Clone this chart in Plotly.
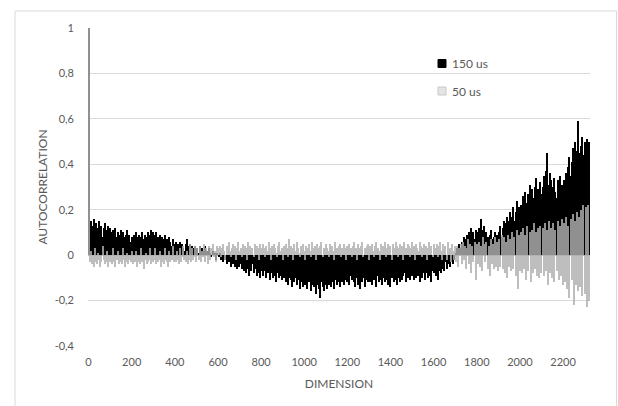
import plotly.graph_objects as go

# Dimensions sampled every 5 (bar centres): 0, 5, ..., 2320
dimension = list(range(0, 2325, 5))

autocorr_150us = [
    1.00,
    0.12, 0.15, 0.10, 0.13, 0.16, 0.11, 0.14, 0.09, 0.12, 0.15, 0.10, 0.13, 0.08, 0.12, 0.14, 0.09, 0.11, 0.13, 0.08, 0.12,
    0.10, 0.07, 0.11, 0.09, 0.12, 0.08, 0.10, 0.06, 0.09, 0.11, 0.07, 0.10, 0.08, 0.06, 0.09, 0.11, 0.07, 0.09, 0.06, 0.08,
    0.07, 0.09, 0.06, 0.10, 0.08, 0.07, 0.09, 0.06, 0.08, 0.10, 0.07, 0.09, 0.06, 0.08, 0.10, 0.07, 0.09, 0.11, 0.08, 0.10,
    0.09, 0.07, 0.10, 0.08, 0.06, 0.09, 0.07, 0.08, 0.05, 0.07, 0.09, 0.06, 0.07, 0.05, 0.08, 0.06, 0.04, 0.07, 0.05, 0.04,
    0.06, 0.04, 0.05, 0.03, 0.06, 0.04, 0.05, 0.03, 0.02, 0.05, 0.07, 0.04, 0.03, 0.05, 0.02, 0.04, 0.03, 0.01, 0.04, 0.02,
    0.03, 0.01, 0.04, 0.02, 0.03, 0.00, 0.02, 0.04, 0.01, 0.02, 0.00, 0.03, 0.01, -0.01, 0.02, 0.00, 0.01, -0.02, 0.01, 0.00,
    -0.01, 0.01, -0.02, 0.00, -0.03, -0.01, -0.02, -0.04, -0.01, -0.03, -0.02, -0.05, -0.03, -0.04, -0.02, -0.05, -0.03, -0.06, -0.04, -0.05,
    -0.04, -0.06, -0.03, -0.07, -0.05, -0.08, -0.04, -0.06, -0.09, -0.05, -0.07, -0.04, -0.08, -0.06, -0.05, -0.09, -0.06, -0.08, -0.10, -0.07,
    -0.06, -0.09, -0.07, -0.05, -0.10, -0.08, -0.06, -0.11, -0.08, -0.07, -0.10, -0.06, -0.09, -0.12, -0.08, -0.07, -0.10, -0.09, -0.11, -0.08,
    -0.10, -0.08, -0.12, -0.09, -0.13, -0.10, -0.08, -0.11, -0.14, -0.09, -0.12, -0.10, -0.13, -0.09, -0.11, -0.15, -0.10, -0.12, -0.14, -0.11,
    -0.13, -0.10, -0.15, -0.12, -0.11, -0.16, -0.13, -0.10, -0.14, -0.12, -0.17, -0.13, -0.11, -0.15, -0.19, -0.12, -0.14, -0.16, -0.11, -0.13,
    -0.15, -0.11, -0.13, -0.09, -0.14, -0.12, -0.10, -0.15, -0.11, -0.13, -0.08, -0.12, -0.14, -0.10, -0.12, -0.09, -0.13, -0.11, -0.08, -0.12,
    -0.10, -0.13, -0.09, -0.11, -0.07, -0.12, -0.14, -0.10, -0.08, -0.13, -0.11, -0.15, -0.09, -0.12, -0.10, -0.14, -0.11, -0.08, -0.12, -0.10,
    -0.12, -0.09, -0.13, -0.08, -0.11, -0.10, -0.14, -0.09, -0.12, -0.07, -0.11, -0.13, -0.09, -0.10, -0.12, -0.08, -0.11, -0.13, -0.09, -0.14,
    -0.10, -0.07, -0.12, -0.09, -0.11, -0.13, -0.08, -0.10, -0.12, -0.07, -0.11, -0.09, -0.08, -0.12, -0.06, -0.10, -0.09, -0.11, -0.07, -0.09,
    -0.08, -0.11, -0.07, -0.10, -0.06, -0.09, -0.12, -0.07, -0.10, -0.08, -0.06, -0.11, -0.08, -0.07, -0.10, -0.06, -0.09, -0.12, -0.07, -0.08,
    -0.06, -0.09, -0.05, -0.11, -0.07, -0.04, -0.08, -0.06, -0.05, -0.07, -0.03, -0.06, -0.04, -0.02, -0.05, -0.03, -0.01, -0.04, -0.02, 0.00,
    0.01, 0.03, 0.02, 0.05, 0.03, 0.06, 0.04, 0.08, 0.05, 0.07, 0.09, 0.06, 0.10, 0.07, 0.12, 0.08, 0.10, 0.07, 0.11, 0.09,
    0.10, 0.12, 0.08, 0.16, 0.11, 0.09, 0.13, 0.07, 0.10, 0.08, 0.06, 0.09, 0.11, 0.07, 0.05, 0.08, 0.10, 0.06, 0.09, 0.07,
    0.10, 0.13, 0.08, 0.12, 0.15, 0.11, 0.14, 0.17, 0.12, 0.15, 0.19, 0.14, 0.17, 0.21, 0.15, 0.19, 0.24, 0.18, 0.21, 0.17,
    0.22, 0.19, 0.26, 0.21, 0.28, 0.23, 0.20, 0.27, 0.31, 0.24, 0.29, 0.25, 0.22, 0.30, 0.34, 0.26, 0.29, 0.24, 0.32, 0.27,
    0.30, 0.35, 0.28, 0.37, 0.45, 0.31, 0.27, 0.36, 0.33, 0.24, 0.30, 0.34, 0.28, 0.25, 0.33, 0.29, 0.35, 0.27, 0.31, 0.29,
    0.33, 0.28, 0.36, 0.30, 0.39, 0.43, 0.35, 0.41, 0.47, 0.38, 0.50, 0.42, 0.46, 0.59, 0.45, 0.40, 0.48, 0.52, 0.44, 0.50,
    0.46, 0.51, 0.43, 0.50,
]

autocorr_50us = [
    1.00,
    -0.03, 0.02, -0.04, -0.02, -0.05, 0.03, -0.03, -0.04, 0.01, -0.02, -0.05, -0.03, 0.04, -0.02, -0.04, -0.03, 0.02, -0.05, -0.02, -0.03,
    -0.02, -0.04, 0.03, -0.03, -0.05, -0.02, 0.02, -0.04, -0.03, -0.01, -0.04, 0.03, -0.02, -0.05, -0.03, 0.01, -0.04, -0.02, -0.03, 0.02,
    -0.04, -0.02, -0.03, 0.02, -0.05, -0.03, -0.02, -0.04, 0.03, -0.03, -0.06, -0.02, 0.01, -0.04, -0.03, -0.02, 0.03, -0.04, -0.02, -0.03,
    -0.02, 0.03, -0.04, -0.03, -0.02, 0.02, -0.05, -0.03, -0.01, -0.04, 0.03, -0.02, -0.03, -0.05, 0.02, -0.03, -0.02, 0.04, -0.03, -0.02,
    -0.03, 0.02, -0.02, -0.04, 0.03, -0.03, -0.01, 0.04, -0.02, -0.03, 0.02, -0.04, -0.02, 0.05, -0.03, 0.03, -0.02, -0.01, 0.04, -0.03,
    0.03, -0.02, 0.04, -0.03, 0.02, -0.01, 0.05, -0.03, 0.03, 0.02, -0.04, 0.04, -0.02, 0.03, 0.05, -0.01, 0.02, -0.03, 0.04, 0.03,
    0.02, 0.04, -0.01, 0.03, 0.05, 0.02, -0.02, 0.04, 0.03, 0.06, 0.02, -0.01, 0.03, 0.05, 0.02, 0.04, -0.02, 0.03, 0.06, 0.02,
    0.03, -0.01, 0.05, 0.02, 0.04, 0.03, -0.02, 0.06, 0.02, 0.04, 0.01, 0.03, -0.01, 0.05, 0.02, 0.04, 0.03, -0.02, 0.05, 0.03,
    0.02, 0.05, 0.03, -0.01, 0.04, 0.02, 0.06, 0.03, -0.02, 0.04, 0.02, 0.05, 0.03, 0.01, -0.01, 0.04, 0.06, 0.02, 0.03, -0.02,
    0.04, 0.02, 0.05, 0.03, -0.01, 0.07, 0.02, 0.04, 0.03, -0.02, 0.05, 0.02, 0.06, 0.03, 0.01, -0.01, 0.04, 0.03, 0.05, 0.02,
    -0.02, 0.04, 0.03, 0.05, 0.02, -0.01, 0.06, 0.03, 0.02, 0.04, -0.02, 0.05, 0.03, 0.02, 0.04, 0.06, -0.01, 0.03, 0.02, 0.05,
    0.03, 0.02, -0.01, 0.05, 0.03, 0.04, 0.02, -0.02, 0.06, 0.03, 0.02, 0.04, 0.05, -0.01, 0.03, 0.02, 0.05, 0.03, -0.02, 0.04,
    0.02, 0.05, 0.03, -0.01, 0.04, 0.06, 0.02, 0.03, -0.02, 0.05, 0.03, 0.02, 0.04, 0.06, -0.01, 0.03, 0.02, 0.04, 0.05, -0.02,
    0.04, 0.03, 0.05, 0.02, -0.01, 0.04, 0.06, 0.03, 0.02, -0.02, 0.05, 0.03, 0.04, 0.02, 0.06, -0.01, 0.03, 0.05, 0.02, 0.04,
    -0.02, 0.05, 0.03, 0.02, 0.06, 0.04, -0.01, 0.03, 0.05, 0.02, 0.04, -0.02, 0.06, 0.03, 0.02, 0.05, 0.04, -0.01, 0.03, 0.06,
    0.02, 0.04, -0.02, 0.05, 0.03, 0.02, 0.06, 0.04, -0.01, 0.03, 0.05, 0.02, 0.04, -0.02, 0.03, 0.06, 0.02, 0.04, -0.01, 0.05,
    0.03, 0.02, 0.05, -0.01, 0.04, 0.06, 0.02, -0.02, 0.05, 0.03, 0.04, -0.02, 0.06, 0.02, 0.03, -0.03, 0.05, 0.02, -0.02, 0.04,
    -0.03, 0.04, -0.05, 0.03, 0.05, -0.04, 0.06, -0.02, 0.04, -0.06, 0.03, 0.07, -0.04, 0.05, -0.08, 0.04, -0.03, 0.06, -0.11, 0.05,
    -0.04, 0.06, -0.05, 0.04, -0.07, 0.08, 0.05, -0.03, 0.06, -0.06, 0.04, -0.09, 0.07, -0.04, 0.05, -0.06, 0.08, -0.05, 0.06, -0.07,
    0.07, -0.05, 0.09, -0.06, 0.08, -0.08, 0.06, -0.10, 0.09, -0.05, 0.07, -0.07, 0.10, -0.06, 0.08, -0.09, 0.11, -0.15, 0.09, -0.07,
    0.10, -0.08, 0.12, -0.06, 0.09, -0.11, 0.13, -0.07, 0.10, -0.12, 0.11, -0.08, 0.14, -0.06, 0.10, -0.09, 0.12, -0.10, 0.13, -0.08,
    0.12, -0.09, 0.14, -0.07, 0.11, -0.13, 0.15, -0.08, 0.12, -0.10, 0.14, -0.12, 0.11, -0.07, 0.15, -0.11, 0.13, -0.09, 0.16, -0.13,
    0.14, -0.12, 0.17, -0.15, 0.13, -0.19, 0.16, -0.11, 0.18, -0.22, 0.15, -0.13, 0.19, -0.16, 0.17, -0.14, 0.20, -0.18, 0.22, -0.17,
    0.21, -0.23, 0.22, -0.20,
]

x_ticks = list(range(0, 2201, 200))
y_ticks = [-0.4, -0.2, 0, 0.2, 0.4, 0.6, 0.8, 1.0]
y_tick_text = ["-0,4", "-0,2", "0", "0,2", "0,4", "0,6", "0,8", "1"]
series_names = ["150 us", "50 us"]

n = min(len(dimension), len(autocorr_150us), len(autocorr_50us))

BLACK = "#000000"
GRAY = "#b0b0b0"
FONT = "Lato"
TXT = "#595959"

fig = go.Figure()
fig.add_trace(go.Bar(x=dimension[:n], y=autocorr_150us[:n], width=5, name=series_names[0],
                     marker=dict(color=BLACK, line=dict(width=0)), showlegend=False))
fig.add_trace(go.Bar(x=dimension[:n], y=autocorr_50us[:n], width=5, name=series_names[1],
                     marker=dict(color=GRAY, line=dict(width=0)), opacity=0.82, showlegend=False))

W, H = 618, 406
L, R, T, B = 88, 28, 28, 60
pw, ph = W - L - R, H - T - B

def px(xp):
    return (xp - L) / pw

def py(yp):
    return 1 - (yp - T) / ph

shapes = [
    dict(type="rect", xref="paper", yref="paper", x0=px(15), x1=px(616.5), y0=py(415), y1=py(11),
         line=dict(color="#d9d9d9", width=1), fillcolor="rgba(0,0,0,0)", layer="below"),
    dict(type="rect", xref="paper", yref="paper", x0=px(438), x1=px(446), y0=py(67.5), y1=py(59.5),
         line=dict(color=BLACK, width=1), fillcolor=BLACK),
    dict(type="rect", xref="paper", yref="paper", x0=px(438), x1=px(446), y0=py(95), y1=py(87),
         line=dict(color="#c8c8c8", width=1), fillcolor="#e4e4e4"),
]
annotations = [
    dict(text=series_names[0], xref="paper", yref="paper", x=px(450), y=py(63.5), xanchor="left",
         yanchor="middle", showarrow=False, font=dict(family=FONT, size=12, color=TXT)),
    dict(text=series_names[1], xref="paper", yref="paper", x=px(450), y=py(91), xanchor="left",
         yanchor="middle", showarrow=False, font=dict(family=FONT, size=12, color=TXT)),
]

fig.update_layout(
    width=W, height=H,
    margin=dict(l=L, r=R, t=T, b=B, pad=0),
    paper_bgcolor="white", plot_bgcolor="white",
    barmode="overlay", bargap=0,
    font=dict(family=FONT, size=11, color=TXT),
    shapes=shapes, annotations=annotations,
    showlegend=False,
)
fig.update_xaxes(
    range=[-2.5, 2325], tickvals=x_ticks, ticktext=[str(v) for v in x_ticks],
    showgrid=False, zeroline=False, showline=False, ticks="",
    ticklabelstandoff=8,
    tickfont=dict(family=FONT, size=11, color=TXT),
    title=dict(text="DIMENSION", font=dict(family=FONT, size=12, color=TXT), standoff=12),
)
fig.update_yaxes(
    range=[-0.4, 1.0], tickvals=y_ticks, ticktext=y_tick_text,
    showgrid=True, gridcolor="#d9d9d9", gridwidth=1,
    zeroline=True, zerolinecolor="#bfbfbf", zerolinewidth=1,
    showline=False, ticks="", ticklabelstandoff=13,
    tickfont=dict(family=FONT, size=11, color=TXT),
    title=dict(text="AUTOCORRELATION", font=dict(family=FONT, size=12, color=TXT), standoff=4),
)

fig.write_html("out.html")
